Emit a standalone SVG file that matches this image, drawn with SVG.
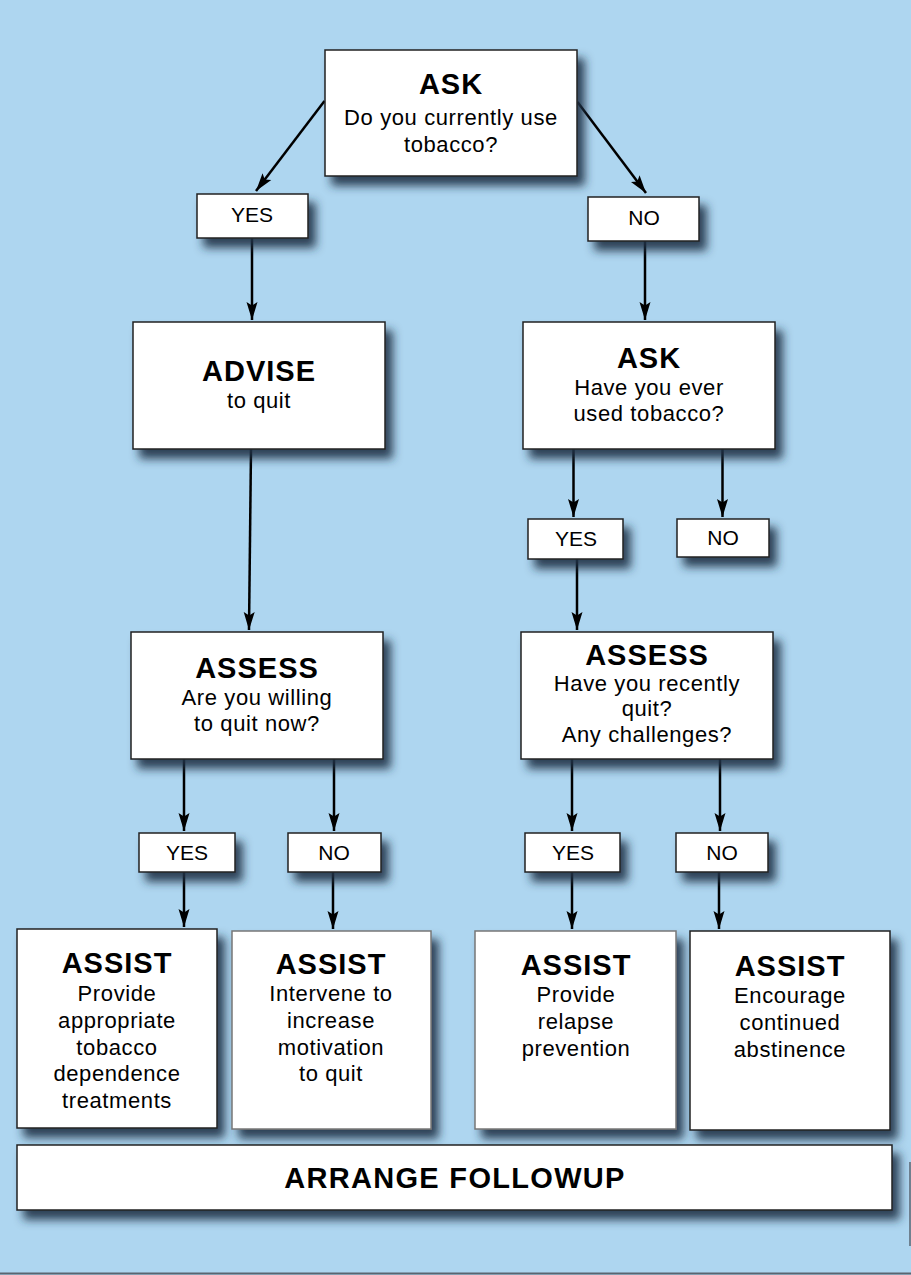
<svg xmlns="http://www.w3.org/2000/svg" width="911" height="1275" viewBox="0 0 911 1275">
<style>
.box{fill:#fff;stroke:#222;stroke-width:1.5;filter:url(#sh)}
.ti{font-family:"Liberation Sans",Arial,Helvetica,sans-serif;font-weight:bold;font-size:29px;letter-spacing:1px;text-anchor:middle;fill:#000}
.bd{font-family:"Liberation Sans",Arial,Helvetica,sans-serif;font-size:22px;letter-spacing:0.6px;text-anchor:middle;fill:#000}
.yn{font-family:"Liberation Sans",Arial,Helvetica,sans-serif;font-size:21px;text-anchor:middle;fill:#000}
.ln{stroke:#000;stroke-width:2.5;fill:none;marker-end:url(#ah)}
</style>
<defs>
<filter id="sh" x="-10%" y="-15%" width="130%" height="170%">
<feDropShadow dx="7" dy="9" stdDeviation="5" flood-color="#1f3346" flood-opacity="0.9"/>
</filter>
<marker id="ah" markerUnits="userSpaceOnUse" markerWidth="19" markerHeight="12" refX="18" refY="6" orient="auto">
<path d="M0,0.5 L18,6 L0,11.5 L3.5,6 z" fill="#000"/>
</marker>
</defs>
<rect x="0" y="0" width="911" height="1275" fill="#aed6f0"/>
<line x1="0" y1="1273.5" x2="911" y2="1273.5" stroke="#5a6570" stroke-width="2"/>
<line x1="910" y1="1162" x2="910" y2="1246" stroke="#5a6570" stroke-width="1.5"/>

<g id="connectors">
<path class="ln" d="M324.5,101 L256,191"/>
<path class="ln" d="M577.5,102 L646,193"/>
<path class="ln" d="M252,238 L252,320"/>
<path class="ln" d="M645,241 L645,320"/>
<path class="ln" d="M251,449 L249,630"/>
<path class="ln" d="M573.5,449 L573.5,517"/>
<path class="ln" d="M722.5,449 L722.5,517"/>
<path class="ln" d="M577,559 L577,630"/>
<path class="ln" d="M184,759 L184,831"/>
<path class="ln" d="M334,759 L334,831"/>
<path class="ln" d="M572,759 L572,831"/>
<path class="ln" d="M720,759 L720,831"/>
<path class="ln" d="M184,872 L184,927"/>
<path class="ln" d="M333,872 L333,929"/>
<path class="ln" d="M572,872 L572,929"/>
<path class="ln" d="M719,872 L719,929"/>
</g>

<g id="ask1">
<rect class="box" x="325" y="50" width="252" height="126"/>
<text class="ti" x="451" y="94">ASK</text>
<text class="bd" x="451" y="125">Do you currently use</text>
<text class="bd" x="451" y="152">tobacco?</text>
</g>
<g id="yes1">
<rect class="box" x="197" y="194" width="111" height="44"/>
<text class="yn" x="252" y="222">YES</text>
</g>
<g id="no1">
<rect class="box" x="588" y="197" width="111" height="44"/>
<text class="yn" x="644" y="225">NO</text>
</g>
<g id="advise">
<rect class="box" x="133" y="322" width="252" height="127"/>
<text class="ti" x="259" y="381">ADVISE</text>
<text class="bd" x="259" y="408">to quit</text>
</g>
<g id="ask2">
<rect class="box" x="523" y="322" width="252" height="127"/>
<text class="ti" x="649" y="368">ASK</text>
<text class="bd" x="649" y="395">Have you ever</text>
<text class="bd" x="649" y="421">used tobacco?</text>
</g>
<g id="yes2">
<rect class="box" x="528" y="519" width="95" height="40"/>
<text class="yn" x="576" y="546">YES</text>
</g>
<g id="no2">
<rect class="box" x="677" y="519" width="92" height="38"/>
<text class="yn" x="723" y="545">NO</text>
</g>
<g id="assess1">
<rect class="box" x="131" y="632" width="252" height="127"/>
<text class="ti" x="257" y="678">ASSESS</text>
<text class="bd" x="257" y="705">Are you willing</text>
<text class="bd" x="257" y="731">to quit now?</text>
</g>
<g id="assess2">
<rect class="box" x="521" y="632" width="252" height="127"/>
<text class="ti" x="647" y="665">ASSESS</text>
<text class="bd" x="647" y="691">Have you recently</text>
<text class="bd" x="647" y="716">quit?</text>
<text class="bd" x="647" y="742">Any challenges?</text>
</g>
<g id="yes3">
<rect class="box" x="139" y="833" width="96" height="39"/>
<text class="yn" x="187" y="860">YES</text>
</g>
<g id="no3">
<rect class="box" x="288" y="833" width="93" height="39"/>
<text class="yn" x="334" y="860">NO</text>
</g>
<g id="yes4">
<rect class="box" x="525" y="833" width="95" height="39"/>
<text class="yn" x="573" y="860">YES</text>
</g>
<g id="no4">
<rect class="box" x="676" y="833" width="92" height="39"/>
<text class="yn" x="722" y="860">NO</text>
</g>
<g id="assist1">
<rect class="box" x="17" y="929" width="200" height="199"/>
<text class="ti" x="117" y="973">ASSIST</text>
<text class="bd" x="117" y="1001">Provide</text>
<text class="bd" x="117" y="1028">appropriate</text>
<text class="bd" x="117" y="1055">tobacco</text>
<text class="bd" x="117" y="1081">dependence</text>
<text class="bd" x="117" y="1108">treatments</text>
</g>
<g id="assist2">
<rect class="box" x="232" y="931" width="199" height="198" style="stroke:#777"/>
<text class="ti" x="331" y="974">ASSIST</text>
<text class="bd" x="331" y="1001">Intervene to</text>
<text class="bd" x="331" y="1028">increase</text>
<text class="bd" x="331" y="1055">motivation</text>
<text class="bd" x="331" y="1081">to quit</text>
</g>
<g id="assist3">
<rect class="box" x="475" y="931" width="201" height="198" style="stroke:#777"/>
<text class="ti" x="576" y="975">ASSIST</text>
<text class="bd" x="576" y="1002">Provide</text>
<text class="bd" x="576" y="1029">relapse</text>
<text class="bd" x="576" y="1056">prevention</text>
</g>
<g id="assist4">
<rect class="box" x="690" y="931" width="200" height="199"/>
<text class="ti" x="790" y="976">ASSIST</text>
<text class="bd" x="790" y="1003">Encourage</text>
<text class="bd" x="790" y="1030">continued</text>
<text class="bd" x="790" y="1057">abstinence</text>
</g>
<g id="arrange">
<rect class="box" x="17" y="1145" width="875" height="65"/>
<text class="ti" x="455" y="1188" style="font-size:29px;letter-spacing:1.3px">ARRANGE FOLLOWUP</text>
</g>
</svg>
